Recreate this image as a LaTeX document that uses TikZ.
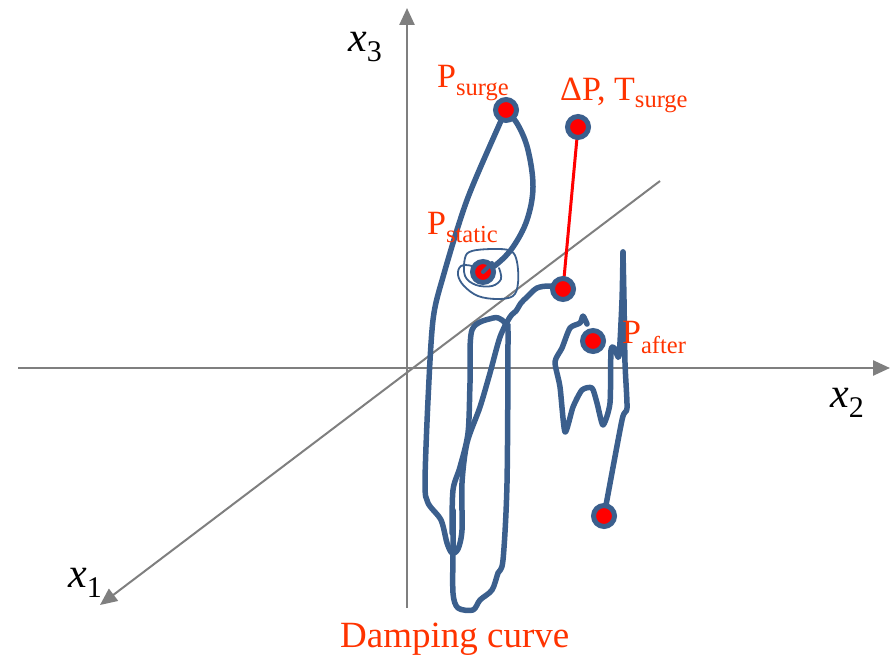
\documentclass[tikz,border=0pt]{standalone}
\usepackage{fontspec}
\setmainfont{Liberation Serif}
\usetikzlibrary{arrows.meta}
\definecolor{lblred}{HTML}{FF3300}
\definecolor{curveblue}{HTML}{3B5F8D}
\definecolor{axisgray}{HTML}{7F7F7F}
\newcommand\subtxt[2][-8pt]{\raisebox{#1}{\fontsize{24.5}{24.5}\selectfont #2}}
\newcommand\axlab[1]{{\fontsize{42}{42}\selectfont\itshape x}\raisebox{-10pt}{\fontsize{30}{30}\selectfont #1}}
\begin{document}
\begin{tikzpicture}[x=1pt,y=-1pt,
  axisline/.style={draw=axisgray,line width=2.5pt,-{Triangle[length=17pt,width=15pt]}},
  curve/.style={draw=curveblue,line width=5.5pt,line cap=round,line join=round},
  thincurve/.style={draw=curveblue,line width=1.8pt,line cap=round,line join=round},
  ptnode/.style={circle,fill=red,draw=curveblue,line width=5pt,minimum size=21pt,inner sep=0pt},
  lab/.style={text=lblred,inner sep=0pt,anchor=base west,font=\fontsize{34}{34}\selectfont},
  axl/.style={text=black,inner sep=0pt,anchor=base west}]
\useasboundingbox (0,0) rectangle (891,660);
% axis coordinates
\coordinate (x3start) at (407,608);
\coordinate (x3end) at (407,8);
\coordinate (x2start) at (18,368);
\coordinate (x2end) at (890,368);
\coordinate (x1start) at (660,181);
\coordinate (x1end) at (100,605);
\draw[axisline] (x3start) -- (x3end);
\draw[axisline] (x2start) -- (x2end);
\draw[axisline,line width=2pt] (x1start) -- (x1end);
% point coordinates
\coordinate (surge) at (506,110);
\coordinate (tsurge) at (578,127);
\coordinate (static) at (483,272);
\coordinate (junc) at (563,289);
\coordinate (after) at (593,341);
\coordinate (endpt) at (604,516);
\coordinate (hook) at (587,324);
\coordinate (rtop) at (623,252);
% damping curve strands
\draw[curve] plot[smooth,tension=0.5] coordinates {(surge) (500,123) (467,200) (443,277) (433,320) (428,400) (425,483) (428,503) (441,520) (447,543) (452,553) (458,549) (462,530) (462,483) (467,443) (480,407) (490,373) (500,337) (510,317) (516,311) (521,303) (527,297) (537,288) (550,286) (junc)};
\draw[curve] plot[smooth,tension=0.5] coordinates {(453,510) (453,550) (453,593) (458,608) (473,610) (480,600) (492,590) (498,573) (503,560) (507,483) (508,337) (507,327) (502,320) (493,318) (472,330) (470,383) (468,433) (460,467) (453,490) (452,533)};
\draw[curve] plot[smooth,tension=0.6] coordinates {(surge) (518,125) (528,150) (533,187) (527,220) (513,247) (497,264) (static)};
\draw[thincurve] plot[smooth,tension=0.6] coordinates {(static) (472,266) (461,266) (458,275) (464,286) (478,296) (497,299) (513,296) (518,283) (517,262) (511,251) (494,249) (472,251) (465,258) (465,276) (476,285) (492,286) (501,279) (499,268)};
\draw[curve] plot[smooth,tension=0.4] coordinates {(hook) (583,316) (580,323) (570,328) (562,348) (555,362) (560,387) (565,432) (573,407) (582,390) (592,388) (597,403) (603,425) (610,403) (611,350) (615,349) (619,356) (622,300) (rtop)};
\draw[curve] plot[smooth,tension=0.4] coordinates {(rtop) (624,300) (625,363) (627,408) (622,420) (endpt)};
% red connector
\draw[red,line width=3pt] (tsurge) -- (junc);
% points
\node[ptnode] (nsurge) at (surge) {};
\node[ptnode] (ntsurge) at (tsurge) {};
\node[ptnode] (nstatic) at (static) {};
\node[ptnode] (njunc) at (junc) {};
\node[ptnode] (nafter) at (after) {};
\node[ptnode] (nend) at (endpt) {};
\draw[curveblue,line width=4pt,line cap=round] (nstatic.center) -- (492,263);
% labels
\node[lab] (lsurge) at (437,88) {P\subtxt{surge}};
\node[lab] (ltsurge) at (560,101) {ΔP, T\subtxt[-7pt]{surge}};
\node[lab] (lstatic) at (427,235) {P\subtxt{static}};
\node[lab] (lafter) at (622,343) {P\subtxt[-10pt]{after}};
\node[lab,font=\fontsize{37}{37}\selectfont] (ldamp) at (340,647) {Damping curve};
\node[axl] (lx3) at (348,52) {\axlab{3}};
\node[axl] (lx2) at (830,407) {\axlab{2}};
\node[axl] (lx1) at (68,587) {\axlab{1}};
\end{tikzpicture}
\end{document}
